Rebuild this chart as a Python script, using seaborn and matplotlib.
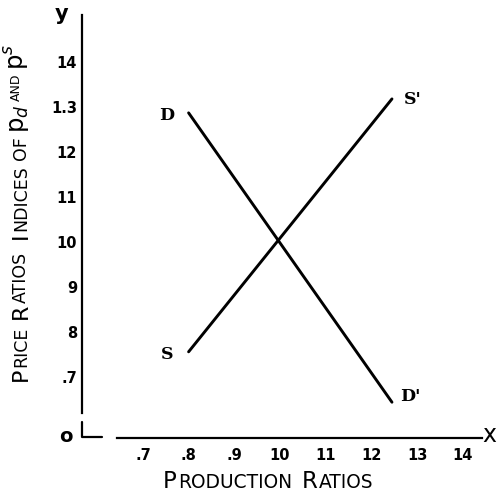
import matplotlib
matplotlib.use("Agg")
import matplotlib.pyplot as plt
import numpy as np
import pandas as pd
import seaborn as sns

# ---- data ----
curve_names = ["D", "D", "S", "S"]
curve_x = [0.80, 1.245, 0.80, 1.245]
curve_y = [1.287, 0.644, 0.756, 1.318]

x_ticks = [0.7, 0.8, 0.9, 1.0, 1.1, 1.2, 1.3, 1.4]
x_tick_labels = [".7", ".8", ".9", "10", "11", "12", "13", "14"]
y_ticks = [0.7, 0.8, 0.9, 1.0, 1.1, 1.2, 1.3, 1.4]
y_tick_labels = [".7", "8", "9", "10", "11", "12", "1.3", "14"]

end_labels = ["D", "D'", "S", "S'"]
end_label_x = [0.751, 1.285, 0.753, 1.291]
end_label_y = [1.282, 0.656, 0.751, 1.316]

sns.set_style("white")
plt.rcParams["font.family"] = ["DejaVu Sans"]
plt.rcParams["text.color"] = "black"
plt.rcParams["mathtext.fontset"] = "dejavusans"

fig = plt.figure(figsize=(5.0, 4.96), dpi=100)
fig.patch.set_facecolor("white")
ax = fig.add_axes([0, 0, 1, 1])
ax.patch.set_alpha(0)

df = pd.DataFrame({"curve": curve_names, "x": curve_x, "y": curve_y})
sns.lineplot(data=df, x="x", y="y", hue="curve", units="curve",
             palette={"D": "black", "S": "black"}, estimator=None,
             sort=False, legend=False, linewidth=2.1, ax=ax)

ax.set_xlim(0.3873, 1.4814)
ax.set_ylim(0.4356, 1.5378)
ax.set_xlabel("")
ax.set_ylabel("")

for side in ["top", "right"]:
    ax.spines[side].set_visible(False)
ax.spines["left"].set_position(("data", 0.5667))
ax.spines["left"].set_bounds(0.62, 1.504)
ax.spines["bottom"].set_position(("data", 0.5644))
ax.spines["bottom"].set_bounds(0.6433, 1.442)
for side in ["left", "bottom"]:
    ax.spines[side].set_linewidth(1.6)
    ax.spines[side].set_color("black")

ax.set_xticks(x_ticks, x_tick_labels)
ax.set_yticks(y_ticks, y_tick_labels)
ax.tick_params(axis="x", direction="in", length=5.5, width=1.3, pad=7.5,
               labelsize=10.5, colors="black")
ax.tick_params(axis="y", direction="in", length=7, width=1.3, pad=3.5,
               labelsize=10.5, colors="black")
for lab in ax.get_xticklabels() + ax.get_yticklabels():
    lab.set_fontweight("bold")

# curve end letters
for t, xx, yy in zip(end_labels, end_label_x, end_label_y):
    ax.text(xx, yy, t, ha="center", va="center", fontsize=12.5,
            family="DejaVu Serif", fontweight="bold", color="black")

# axis letters
ax.text(62 / 500, 1 - 14 / 496, "y", transform=ax.transAxes, ha="center",
        va="center", fontsize=15, fontweight="bold")
ax.text(489 / 500, 1 - 435 / 496, "x", transform=ax.transAxes, ha="center",
        va="center", fontsize=17)
ax.text(66 / 500, 1 - 436 / 496, "o", transform=ax.transAxes, ha="center",
        va="center", fontsize=14, fontweight="bold")
# broken-axis corner mark at origin
ax.plot([82 / 500, 82 / 500, 102 / 500],
        [1 - 422 / 496, 1 - 437 / 496, 1 - 437 / 496],
        transform=ax.transAxes, color="black", lw=1.6, clip_on=False)

# small-caps style labels built from chained pieces
D = 0.235


def chain(pieces, x0, y0, rotation):
    prev = None
    prev_size = None
    for text, size, gap, lift in pieces:
        if prev is None:
            prev = ax.annotate(text, xy=(x0, y0), xycoords="axes fraction",
                               fontsize=size, rotation=rotation,
                               ha="right" if rotation else "left",
                               va="bottom", color="black")
        else:
            dd = D * (prev_size - size)
            if rotation:
                prev = ax.annotate(text, xy=(1, 1), xycoords=prev,
                                   xytext=(-dd - lift, gap),
                                   textcoords="offset points",
                                   fontsize=size, rotation=rotation,
                                   ha="right", va="bottom", color="black")
            else:
                prev = ax.annotate(text, xy=(1, 0), xycoords=prev,
                                   xytext=(gap, dd + lift),
                                   textcoords="offset points",
                                   fontsize=size, ha="left", va="bottom",
                                   color="black")
        prev_size = size


x_label_pieces = [("P", 16.5, 0, 0), ("RODUCTION", 13.4, 0.8, 0),
                  ("R", 16.5, 7, 0), ("ATIOS", 13.4, 0.8, 0)]
chain(x_label_pieces, 163 / 500, 3 / 496, 0)

y_label_pieces = [("P", 16, 0, 0), ("RICE", 12.5, 0.7, 0),
                  ("R", 16, 5, 0), ("ATIOS", 12.5, 0.7, 0),
                  ("I", 16, 9.5, 0), ("NDICES", 12.5, 0.7, 0),
                  ("OF", 12.5, 4, 0), (r"$\mathrm{p}_d$", 17.5, 2.5, 0),
                  ("AND", 9, 2, 4.5), (r"$\mathrm{p}^s$", 17.5, 3, -4.5)]
chain(y_label_pieces, 31 / 500, 1 - 381 / 496, 90)

fig.savefig("out.png", dpi=100, facecolor="white")
